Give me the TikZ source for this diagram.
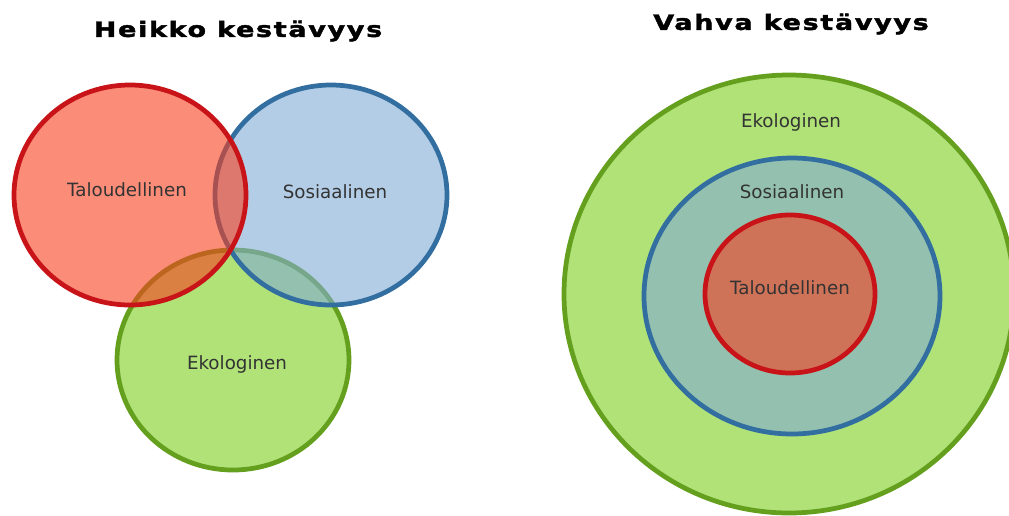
\documentclass[tikz,border=0pt]{standalone}
\usepackage{fontspec}
\setmainfont{DejaVu Sans}
\newfontfamily\titlefont{DejaVu Sans}[FakeStretch=1.28,LetterSpace=8,BoldFeatures={FakeBold=2}]

\definecolor{redline}{RGB}{200,20,25}
\definecolor{redfill}{RGB}{247,63,30}
\definecolor{blueline}{RGB}{50,110,160}
\definecolor{bluefill}{RGB}{130,172,213}
\definecolor{greenline}{RGB}{100,160,30}
\definecolor{greenfill}{RGB}{176,226,120}

\begin{document}
\begin{tikzpicture}[x=0.02cm, y=-0.02cm,
    econ/.style={draw=redline, fill=redfill, fill opacity=0.6, line width=2.7pt},
    soc/.style={draw=blueline, fill=bluefill, fill opacity=0.6, line width=2.7pt},
    eco/.style={draw=greenline, fill=greenfill, line width=2.7pt},
    lbl/.style={font=\fontsize{10.4}{12}\selectfont, text=black!80},
    ttl/.style={font=\titlefont\bfseries\fontsize{12}{14}\selectfont}]

    \useasboundingbox (0, 0) rectangle (1009, 515);
    \clip (0, 0) rectangle (1009, 515);

    % heikko kestavyys
    \draw[eco] (233, 360) ellipse [x radius = 116, y radius = 110];
    \draw[soc] (331, 195) ellipse [x radius = 116, y radius = 110];
    \draw[econ] (130, 195) ellipse [x radius = 116, y radius = 110];

    \node[ttl] (weaktitle) at (238, 31) {Heikko kestävyys};
    \node[lbl] (weakecon) at (127, 190) {Taloudellinen};
    \node[lbl] (weaksoc) at (335, 192) {Sosiaalinen};
    \node[lbl] (weakeco) at (237, 364) {Ekologinen};

    % vahva kestavyys
    \draw[eco] (789, 294) ellipse [x radius = 225, y radius = 219];
    \draw[soc] (792, 296) ellipse [x radius = 148, y radius = 138];
    \draw[econ] (790, 294) ellipse [x radius = 85, y radius = 79];

    \node[ttl] (strongtitle) at (791, 24) {Vahva kestävyys};
    \node[lbl] (strongeco) at (791, 122) {Ekologinen};
    \node[lbl] (strongsoc) at (792, 192) {Sosiaalinen};
    \node[lbl] (strongecon) at (790, 288) {Taloudellinen};

  \end{tikzpicture}
\end{document}
